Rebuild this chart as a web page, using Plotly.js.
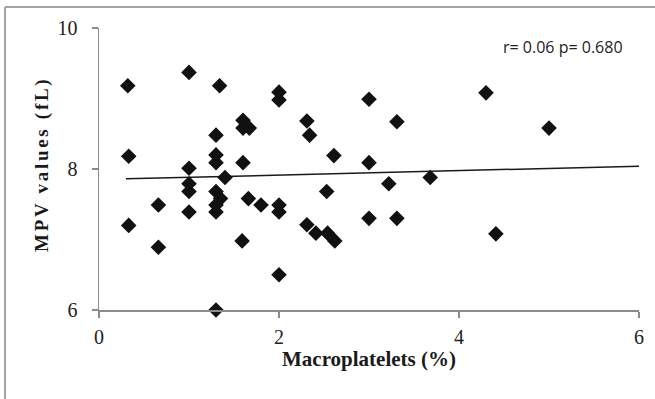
<!DOCTYPE html>
<html>
<head>
<meta charset="utf-8">
<script src="https://cdn.plot.ly/plotly-3.0.1.min.js"></script>
<style>
html,body{margin:0;padding:0;background:#fff;}
#chart{width:655px;height:399px;}
</style>
</head>
<body>
<div id="chart"></div>
<script>
// Macroplatelets (%) vs MPV (fL)
const macroplatelets = [0.32,0.33,0.33,0.66,0.66,1.0,1.0,1.0,1.0,1.0,
  1.34,1.30,1.30,1.30,1.30,1.35,1.30,1.30,1.30,1.40,
  1.60,1.60,1.67,1.60,1.59,1.66,1.80,2.0,2.0,2.0,
  2.0,2.0,2.31,2.34,2.31,2.41,2.54,2.62,2.53,2.61,
  3.0,3.0,3.0,3.22,3.31,3.31,3.68,4.30,4.41,5.0];
const mpvValues = [9.18,8.18,7.20,7.49,6.89,9.37,8.01,7.79,7.68,7.39,
  9.18,8.48,8.20,8.09,7.68,7.58,7.49,7.39,6.0,7.88,
  8.69,8.58,8.58,8.09,6.98,7.58,7.49,9.09,8.98,7.49,
  7.39,6.50,8.68,8.48,7.21,7.09,7.09,6.98,7.68,8.19,
  8.99,8.09,7.30,7.79,8.67,7.30,7.88,9.08,7.08,8.58];
// Linear trendline endpoints
const trendX = [0.3, 6];
const trendY = [7.86, 8.04];
// Tick labels
const xTicks = [0, 2, 4, 6];
const yTicks = [6, 8, 10];
const statsText = "r= 0.06 p= 0.680";
const xTitle = "Macroplatelets (%)";
const yTitle = "MPV values (fL)";

const axisColor = '#8f8a85';
const serif = '"Liberation Serif", "Times New Roman", serif';

const traces = [
  {
    x: trendX, y: trendY, type: 'scatter', mode: 'lines',
    line: {color: '#1a1a1a', width: 1.5}, hoverinfo: 'skip'
  },
  {
    x: macroplatelets, y: mpvValues, type: 'scatter', mode: 'markers',
    marker: {symbol: 'diamond', size: 12, color: '#111111', line: {width: 0}},
    cliponaxis: false
  }
];

const layout = {
  width: 655, height: 399,
  margin: {l: 99, r: 16, t: 28, b: 89},
  paper_bgcolor: '#ffffff', plot_bgcolor: '#ffffff',
  showlegend: false,
  font: {family: serif, color: '#222'},
  xaxis: {
    range: [0, 6], tickvals: xTicks, ticktext: xTicks.map(String),
    showgrid: false, zeroline: false, showline: true,
    linecolor: axisColor, linewidth: 1.5,
    ticks: 'outside', ticklen: 6, tickcolor: axisColor, tickwidth: 1.5,
    ticklabelstandoff: 2,
    tickfont: {family: serif, size: 20, color: '#222'},
    title: {text: '<b>' + xTitle + '</b>', font: {family: serif, size: 21, color: '#1a1a1a'}, standoff: 2}
  },
  yaxis: {
    range: [6, 10], tickvals: yTicks, ticktext: yTicks.map(String),
    showgrid: false, zeroline: false, showline: true,
    linecolor: axisColor, linewidth: 1.5,
    ticks: 'outside', ticklen: 6, tickcolor: axisColor, tickwidth: 1.5,
    ticklabelstandoff: 10,
    tickfont: {family: serif, size: 20, color: '#222'}
  },
  annotations: [
    {
      x: 5.16, y: 9.73, xref: 'x', yref: 'y', text: statsText, showarrow: false,
      font: {family: '"Open Sans", "Noto Sans", sans-serif', size: 16, color: '#222'}
    },
    {
      x: -0.106, y: 0.518, xref: 'paper', yref: 'paper', text: '<b>' + yTitle + '</b>',
      textangle: -90, showarrow: false, xanchor: 'center', yanchor: 'middle',
      font: {family: serif, size: 19, color: '#1a1a1a'}
    }
  ],
  shapes: [
    {type: 'line', xref: 'paper', yref: 'paper', x0: -0.174, x1: 1.04, y0: 1.0745, y1: 1.0745,
     line: {color: '#a8a29c', width: 2}},
    {type: 'line', xref: 'paper', yref: 'paper', x0: -0.174, x1: -0.174, y0: 1.0745, y1: -0.32,
     line: {color: '#a8a29c', width: 2}}
  ]
};

Plotly.newPlot('chart', traces, layout, {displayModeBar: false, staticPlot: true}).then(function () {
  const ann = document.querySelectorAll('.annotation-text');
  if (ann.length > 1) { ann[1].style.letterSpacing = '2.7px'; }
});
</script>
</body>
</html>
